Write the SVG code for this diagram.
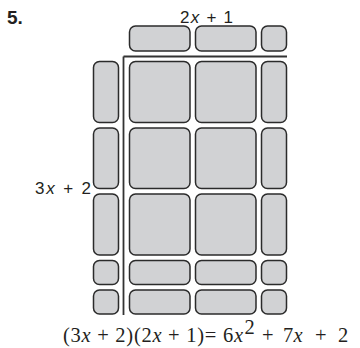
<svg xmlns="http://www.w3.org/2000/svg" width="360" height="348" viewBox="0 0 360 348">
<style>
.t{fill:#d1d2d4;stroke:#2b2b2b;stroke-width:1.5}
.ax{stroke:#333;stroke-width:1.8;fill:none}
.s{font-family:"Liberation Sans",Arial,sans-serif;fill:#231f20}
.m{font-family:"Liberation Serif","Times New Roman",serif;fill:#231f20;font-size:20.5px}
</style>
<rect width="360" height="348" fill="#fff"/>
<text class="s" x="7" y="24" font-size="19" font-weight="bold">5.</text>
<text class="s" x="180" y="22.5" font-size="17" textLength="53" lengthAdjust="spacing" xml:space="preserve">2<tspan font-style="italic">x</tspan> + 1</text>
<text class="s" x="35" y="193.5" font-size="17" textLength="56" lengthAdjust="spacing" xml:space="preserve">3<tspan font-style="italic">x</tspan> + 2</text>
<g id="axes">
<path class="ax" d="M123.5 56.5H287M123.5 56.5V315"/>
</g>
<g id="top">
<rect class="t" x="129.5" y="26" width="60.5" height="25" rx="6"/>
<rect class="t" x="195.5" y="26" width="60.5" height="25" rx="6"/>
<rect class="t" x="261.5" y="26" width="25" height="25" rx="6"/>
</g>
<g id="left">
<rect class="t" x="93.5" y="61.5" width="25" height="61" rx="6"/>
<rect class="t" x="93.5" y="128" width="25" height="60.5" rx="6"/>
<rect class="t" x="93.5" y="194" width="25" height="61" rx="6"/>
<rect class="t" x="93.5" y="260.5" width="25" height="24" rx="6"/>
<rect class="t" x="93.5" y="290" width="25" height="24" rx="6"/>
</g>
<g id="grid">
<rect class="t" x="129.5" y="61.5" width="60.5" height="61" rx="6"/>
<rect class="t" x="195.5" y="61.5" width="60.5" height="61" rx="6"/>
<rect class="t" x="261.5" y="61.5" width="25" height="61" rx="6"/>
<rect class="t" x="129.5" y="128" width="60.5" height="60.5" rx="6"/>
<rect class="t" x="195.5" y="128" width="60.5" height="60.5" rx="6"/>
<rect class="t" x="261.5" y="128" width="25" height="60.5" rx="6"/>
<rect class="t" x="129.5" y="194" width="60.5" height="61" rx="6"/>
<rect class="t" x="195.5" y="194" width="60.5" height="61" rx="6"/>
<rect class="t" x="261.5" y="194" width="25" height="61" rx="6"/>
<rect class="t" x="129.5" y="260.5" width="60.5" height="24" rx="6"/>
<rect class="t" x="195.5" y="260.5" width="60.5" height="24" rx="6"/>
<rect class="t" x="261.5" y="260.5" width="25" height="24" rx="6"/>
<rect class="t" x="129.5" y="290" width="60.5" height="24" rx="6"/>
<rect class="t" x="195.5" y="290" width="60.5" height="24" rx="6"/>
<rect class="t" x="261.5" y="290" width="25" height="24" rx="6"/>
</g>
<text class="m" x="63" y="342" textLength="180" lengthAdjust="spacing" xml:space="preserve">(3<tspan font-style="italic">x</tspan> + 2)(2<tspan font-style="italic">x</tspan> + 1)= 6<tspan font-style="italic">x</tspan></text>
<text class="m" x="244.5" y="333.5" font-size="13">2</text>
<text class="m" y="342"><tspan x="262">+</tspan><tspan x="283">7</tspan><tspan x="293.5" font-style="italic">x</tspan><tspan x="315">+</tspan><tspan x="338">2</tspan></text>
</svg>
